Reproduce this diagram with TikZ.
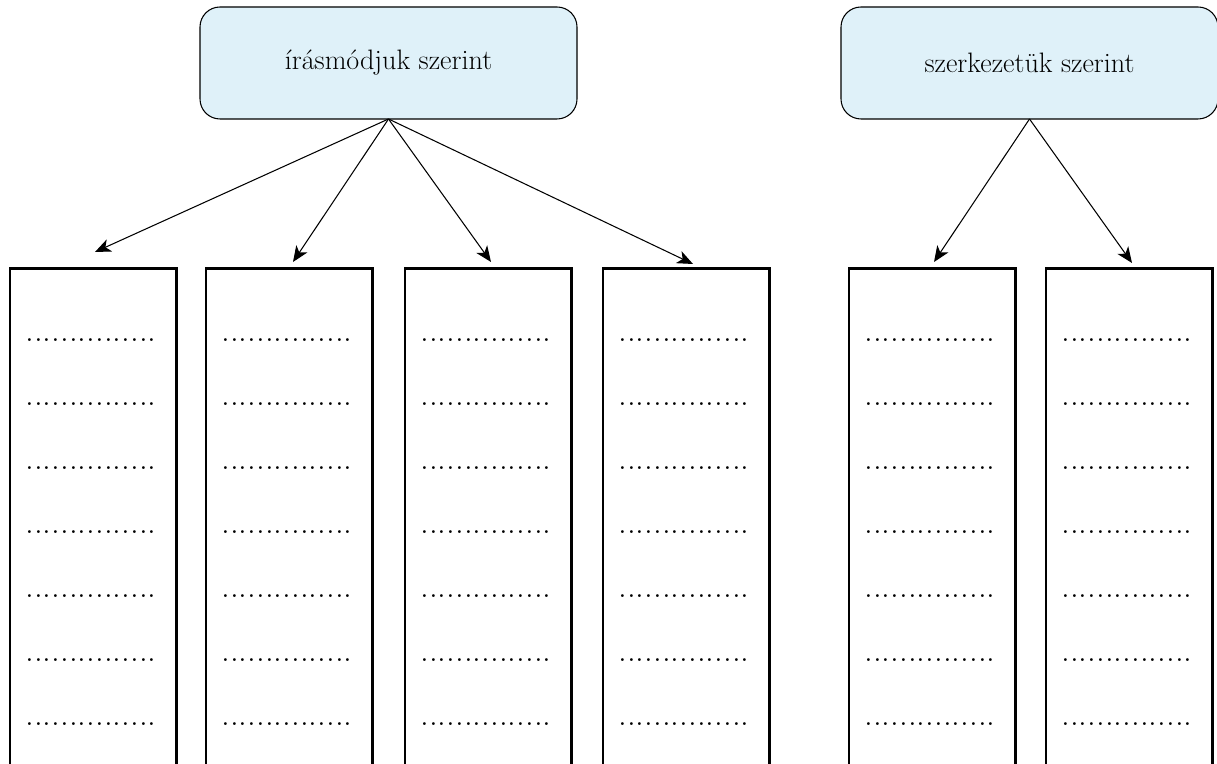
\documentclass[tikz,border=0pt]{standalone}
\usetikzlibrary{arrows.meta}
\definecolor{boxblue}{RGB}{223,241,249}
\tikzset{
  head/.style={draw, fill=boxblue, rounded corners=0.4cm, line width=0.6pt,
    minimum width=7.54cm, minimum height=2.24cm, inner sep=0pt, outer sep=0pt,
    font=\fontsize{16}{19}\selectfont},
  pointer/.style={-{Stealth[length=9pt,width=7.5pt,inset=2.5pt]}, line width=0.6pt},
  column/.style={line width=1.3pt},
  blank/.style={anchor=base, inner sep=0pt, font=\fontsize{19.9}{22}\selectfont}
}
\begin{document}
\begin{tikzpicture}
\useasboundingbox (0,0) rectangle (24.34,15.28);
\node[head] (irasmod) at (7.77,14.02) {írásmódjuk szerint};
\node[head] (szerkezet) at (20.59,14.02) {szerkezetük szerint};
% oszlopok
\draw[column] (0.2,0) |- (3.53,9.91) -- (3.53,0);
\draw[column] (4.12,0) |- (7.45,9.91) -- (7.45,0);
\draw[column] (8.1,0) |- (11.43,9.91) -- (11.43,0);
\draw[column] (12.06,0) |- (15.39,9.91) -- (15.39,0);
\draw[column] (16.98,0) |- (20.31,9.91) -- (20.31,0);
\draw[column] (20.92,0) |- (24.25,9.91) -- (24.25,0);
\coordinate (t1) at (1.9,10.24);
\coordinate (t2) at (5.86,10.04);
\coordinate (t3) at (9.82,10.04);
\coordinate (t4) at (13.86,10.0);
\coordinate (t5) at (18.68,10.04);
\coordinate (t6) at (22.64,10.02);
\draw[pointer] (irasmod.south) -- (t1);
\draw[pointer] (irasmod.south) -- (t2);
\draw[pointer] (irasmod.south) -- (t3);
\draw[pointer] (irasmod.south) -- (t4);
\draw[pointer] (szerkezet.south) -- (t5);
\draw[pointer] (szerkezet.south) -- (t6);
% kitöltendő sorok
\foreach \x [count=\i] in {0.2,4.12,8.1,12.06,16.98,20.92}
  \foreach \y [count=\j] in {8.44,7.16,5.88,4.60,3.32,2.04,0.76}
    \node[blank] (d\i-\j) at (\x+1.62,\y) {...............};
\end{tikzpicture}
\end{document}
